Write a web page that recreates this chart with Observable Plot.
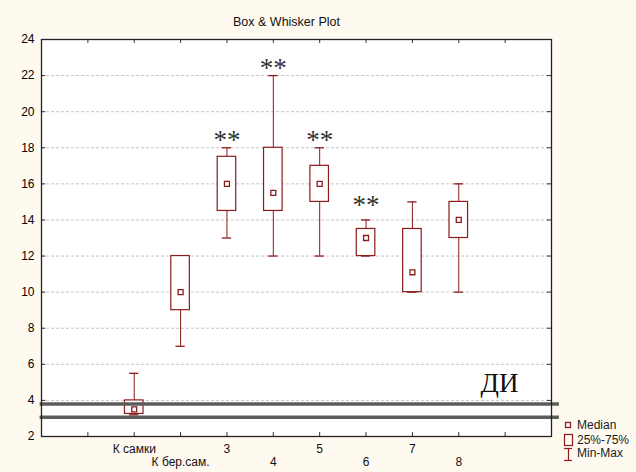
<!DOCTYPE html>
<html><head><meta charset="utf-8">
<script src="https://cdn.jsdelivr.net/npm/d3@7"></script>
<script src="https://cdn.jsdelivr.net/npm/@observablehq/plot@0.6"></script>
<style>
html,body{margin:0;padding:0;background:#fffaf0;}
#wrap{position:relative;width:636px;height:472px;background:#fffaf0;font-family:"Liberation Sans",Arial,sans-serif;overflow:hidden;}
#wrap svg{position:absolute;left:0;top:0;}
.leg{position:absolute;font-size:12px;color:#1a1a1a;line-height:12px;white-space:nowrap;}
</style></head><body><div id="wrap"></div>
<script>
// ---- data ----
const categories = ["К самки", "К бер.сам.", "3", "4", "5", "6", "7", "8"];
const minV = [3.2, 7, 13, 12, 12, 12, 10, 10];
const q1V  = [3.25, 9, 14.5, 14.5, 15, 12, 10, 13];
const medV = [3.5, 10, 16, 15.5, 16, 13, 11.1, 14];
const q3V  = [4, 12, 17.5, 18, 17, 13.5, 13.5, 15];
const maxV = [5.5, 12, 18, 22, 18, 14, 15, 16];
const starCats = ["3", "4", "5", "6"];
const starY = [18.68, 22.67, 18.68, 15.08];
const diLines = [3.8, 3.07];
const diLabel = ["ДИ"];
const yTicks = [2, 4, 6, 8, 10, 12, 14, 16, 18, 20, 22, 24];
const gridY = [4, 6, 8, 10, 12, 14, 16, 18, 20, 22];
const xTickPos = [1, 2, 3, 4, 5, 6, 7, 8, 9, 10];
const title = ["Box & Whisker Plot"];
const legendItems = ["Median", "25%-75%", "Min-Max"];

// ---- derived tables ----
const rows = categories.map((c, i) => ({cat: c, pos: i + 2, min: minV[i], q1: q1V[i], med: medV[i], q3: q3V[i], max: maxV[i]}));
const stars = starCats.map((c, i) => ({pos: categories.indexOf(c) + 2, y: starY[i]}));
const labels = categories.map((c, i) => ({pos: i + 2, text: c, row: i % 2}));

const dark = "#8b1a1a";
const bw = 0.2, cw = 0.1;

const chart = Plot.plot({
  width: 636, height: 472,
  marginLeft: 41, marginRight: 85, marginTop: 39, marginBottom: 36,
  style: {background: "transparent", fontFamily: "Liberation Sans, Arial, sans-serif", fontSize: "12px", color: "#000"},
  x: {domain: [0, 11], axis: null},
  y: {domain: [2, 24], ticks: yTicks, tickSize: 0, tickPadding: 7, label: null},
  marks: [
    Plot.frame({fill: "white", stroke: null}),
    Plot.ruleY(gridY, {stroke: "#c4c4c4", strokeDasharray: "3,2"}),
    Plot.ruleX(rows, {x: "pos", y1: "min", y2: "q1", stroke: dark}),
    Plot.ruleX(rows, {x: "pos", y1: "q3", y2: "max", stroke: dark}),
    Plot.ruleY(rows, {y: "max", x1: d => d.pos - cw, x2: d => d.pos + cw, stroke: dark, strokeWidth: 1.3}),
    Plot.ruleY(rows, {y: "min", x1: d => d.pos - cw, x2: d => d.pos + cw, stroke: dark, strokeWidth: 1.3}),
    Plot.rect(rows, {x1: d => d.pos - bw, x2: d => d.pos + bw, y1: "q1", y2: "q3", fill: "white", stroke: dark, strokeWidth: 1.2}),
    Plot.ruleY(diLines, {x1: -0.03, x2: 11.17, stroke: "#5c5c5c", strokeWidth: 3.5, clip: false}),
    Plot.dot(rows, {x: "pos", y: "med", symbol: "square", r: 2.8, fill: "white", stroke: dark, strokeWidth: 1.3}),
    Plot.text(stars, {x: "pos", y: "y", text: () => "**", fontFamily: "Liberation Serif, Times New Roman, serif", fontSize: 27, fill: "#333", dy: 5}),
    Plot.text(diLabel, {x: 9.47, y: 4.44, text: d => d, textAnchor: "start", lineAnchor: "bottom", fontFamily: "Liberation Serif, Times New Roman, serif", fontSize: 27, fill: "#111"}),
    Plot.ruleY(yTicks, {x1: 0, x2: 0.09, stroke: "#333"}),
    Plot.ruleY(yTicks, {x1: 10.91, x2: 11, stroke: "#333"}),
    Plot.ruleX(xTickPos, {y1: 2, y2: 2.22, stroke: "#333"}),
    Plot.ruleX(xTickPos, {y1: 23.78, y2: 24, stroke: "#333"}),
    Plot.frame({stroke: "#222", strokeWidth: 1.3}),
    Plot.text(labels.filter(d => d.row === 0), {x: "pos", text: "text", frameAnchor: "bottom", dy: 13, lineAnchor: "middle", fontSize: 12, fill: "#111"}),
    Plot.text(labels.filter(d => d.row === 1), {x: "pos", text: "text", frameAnchor: "bottom", dy: 26, lineAnchor: "middle", fontSize: 12, fill: "#111"}),
    Plot.text(title, {text: d => d, frameAnchor: "top", dy: -18, dx: -10, lineAnchor: "middle", fontSize: 12.5, fill: "#111"})
  ]
});
const wrap = document.getElementById("wrap");
wrap.appendChild(chart);

// ---- legend (HTML overlay) ----
const ns = "http://www.w3.org/2000/svg";
const icons = document.createElementNS(ns, "svg");
icons.setAttribute("width", 20); icons.setAttribute("height", 50);
icons.style.position = "absolute"; icons.style.left = "560px"; icons.style.top = "415px";
icons.innerHTML =
  `<rect x="5.5" y="7.5" width="5" height="5" fill="white" stroke="${dark}" stroke-width="1.3"/>` +
  `<rect x="4.5" y="19.5" width="8" height="11" fill="none" stroke="${dark}" stroke-width="1.2"/>` +
  `<line x1="4" x2="12" y1="33.5" y2="33.5" stroke="${dark}" stroke-width="1.2"/>` +
  `<line x1="8.5" x2="8.5" y1="33.5" y2="45" stroke="${dark}" stroke-width="1.2"/>` +
  `<line x1="4" x2="12" y1="45.5" y2="45.5" stroke="${dark}" stroke-width="1.2"/>`;
wrap.appendChild(icons);
const legY = [419, 434, 447];
legendItems.forEach((t, i) => {
  const s = document.createElement("div");
  s.className = "leg"; s.textContent = t;
  s.style.left = "577px"; s.style.top = legY[i] + "px";
  wrap.appendChild(s);
});
</script></body></html>
